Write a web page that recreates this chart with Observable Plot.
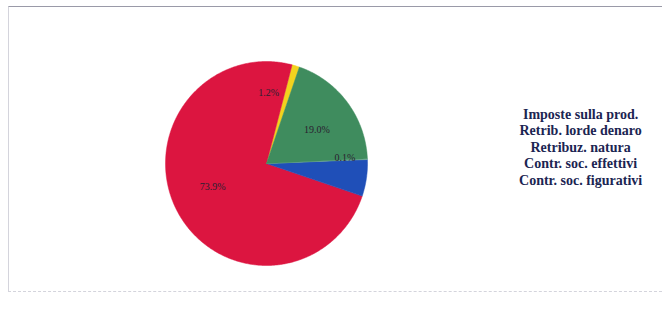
<!DOCTYPE html>
<html>
<head>
<meta charset="utf-8">
<script src="https://cdn.jsdelivr.net/npm/d3@7"></script>
<script src="https://cdn.jsdelivr.net/npm/@observablehq/plot@0.6"></script>
<style>
  html, body { margin: 0; padding: 0; background: #fff; }
  #wrap { position: relative; width: 666px; height: 320px; overflow: hidden; }
  #frame { position: absolute; left: 8px; top: 6px; width: 654px; height: 286px;
           border-top: 1px solid #9a9aa8; border-left: 1px solid #d4d4dc;
           border-bottom: 1px dashed #d4d4dc; box-sizing: border-box; }
  #chart { position: absolute; left: 0; top: 0; }
</style>
</head>
<body>
<div id="wrap"><div id="frame"></div><div id="chart"></div></div>
<script>
// Data (order as in legend; slices drawn counter-clockwise)
const categories = ["Imposte sulla prod.", "Retrib. lorde denaro", "Retribuz. natura", "Contr. soc. effettivi", "Contr. soc. figurativi"];
const values = [1.2, 73.9, 5.8, 0.1, 19.0];
const labels = ["1.2%", "73.9%", "", "0.1%", "19.0%"];
const colors = ["#f2d21e", "#dc1540", "#1f4fb8", "#7fb3a0", "#3f8c5e"];

const startDeg = 19;
const pie = d3.pie().sort(null).value(d => d.value)
  .startAngle(startDeg * Math.PI / 180)
  .endAngle(startDeg * Math.PI / 180 - 2 * Math.PI);
const rows = categories.map((c, i) => ({cat: c, value: values[i], label: labels[i], color: colors[i]}));
const arcs = pie(rows);

// polygon points for each slice
const pts = [];
arcs.forEach(a => {
  const n = Math.max(2, Math.ceil(Math.abs(a.endAngle - a.startAngle) / 0.01));
  pts.push({cat: a.data.cat, color: a.data.color, x: 0, y: 0});
  for (let k = 0; k <= n; k++) {
    const t = a.startAngle + (a.endAngle - a.startAngle) * k / n;
    pts.push({cat: a.data.cat, color: a.data.color, x: Math.sin(t), y: Math.cos(t)});
  }
  pts.push({cat: a.data.cat, color: a.data.color, x: 0, y: 0});
});

// label placement (radius fraction, angular nudge in degrees)
const labelPlace = {
  "Imposte sulla prod.": [0.69, -15],
  "Retrib. lorde denaro": [0.58, 5],
  "Contr. soc. effettivi": [0.78, -2],
  "Contr. soc. figurativi": [0.6, 3]
};
const lab = arcs.filter(a => a.data.label).map(a => {
  const [r, nudge] = labelPlace[a.data.cat] || [0.7, 0];
  const m = (a.startAngle + a.endAngle) / 2 + nudge * Math.PI / 180;
  return {label: a.data.label, x: Math.sin(m) * r, y: Math.cos(m) * r};
});

const legendX = 3.11;
const leg = categories.map((c, i) => ({cat: c, x: legendX, y: 0.48 - i * 0.161}));

const plot = Plot.plot({
  width: 666, height: 320, margin: 0,
  x: {domain: [-1, 1], range: [165, 367], axis: null},
  y: {domain: [-1, 1], range: [265, 61], axis: null},
  marks: [
    Plot.line(pts, {x: "x", y: "y", z: "cat", fill: "color", stroke: "color", strokeWidth: 0.5, curve: "linear"}),
    Plot.text(lab, {x: "x", y: "y", text: "label", fill: "#2a2030", fontSize: 10, fontFamily: "Liberation Serif"}),
    Plot.text(leg, {x: "x", y: "y", text: "cat", fill: "#1b2552", fontSize: 14, fontWeight: "bold", fontFamily: "Liberation Serif"})
  ]
});
document.getElementById("chart").appendChild(plot);
</script>
</body>
</html>
